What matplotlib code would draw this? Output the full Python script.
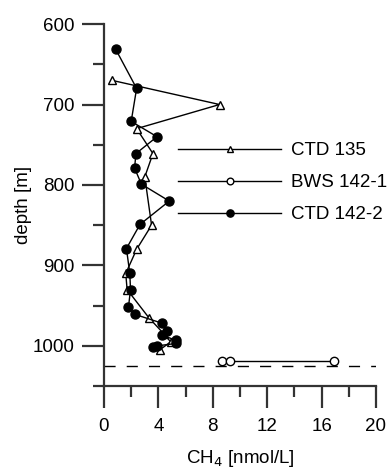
import matplotlib
matplotlib.use('Agg')
import matplotlib.pyplot as plt
from matplotlib.ticker import MultipleLocator

plt.rcParams['font.family'] = ['Liberation Sans', 'DejaVu Sans']
plt.rcParams['font.size'] = 13.5

# CTD 135 (open triangles)
ctd135_ch4 = [0.6, 8.5, 2.4, 3.6, 3.0, 3.5, 2.4, 1.6, 1.7, 3.3, 4.4, 4.9, 4.1]
ctd135_depth = [670, 700, 730, 761, 790, 850, 880, 910, 930, 965, 985, 995, 1005]

# BWS 142-1 (open circles)
bws_ch4 = [8.65, 9.3, 16.9]
bws_depth = [1019, 1019, 1019]

# CTD 142-2 (filled circles)
ctd142_ch4 = [0.85, 2.4, 2.0, 3.9, 2.35, 2.25, 2.75, 4.8, 2.65, 1.65, 1.9,
              1.95, 1.8, 2.3, 4.3, 4.65, 4.3, 5.3, 5.3, 3.9, 3.6]
ctd142_depth = [631, 680, 721, 740, 761, 779, 799, 820, 849, 879, 910,
                930, 952, 961, 972, 982, 987, 993, 997, 1000, 1002]

seafloor = 1025

fig = plt.figure(figsize=(3.88, 4.72), dpi=100)
ax = fig.add_axes([0.268, 0.182, 0.701, 0.767])

ax.plot(ctd135_ch4, ctd135_depth, '-^', color='black', lw=1.0,
        mfc='white', mec='black', ms=6, mew=1.0, label='CTD 135')
ax.plot(bws_ch4, bws_depth, '-o', color='black', lw=1.0,
        mfc='white', mec='black', ms=6, mew=1.0, label='BWS 142-1')
ax.plot(ctd142_ch4, ctd142_depth, '-o', color='black', lw=1.0,
        mfc='black', mec='black', ms=6.5, label='CTD 142-2')

# bottom depth
ax.axhline(seafloor, color='black', lw=1.0, dashes=(8, 8))

ax.set_xlim(0, 20)
ax.set_ylim(1050, 600)
ax.xaxis.set_major_locator(MultipleLocator(4))
ax.xaxis.set_minor_locator(MultipleLocator(2))
ax.yaxis.set_major_locator(MultipleLocator(100))
ax.yaxis.set_minor_locator(MultipleLocator(50))

for s in ['top', 'right']:
    ax.spines[s].set_visible(False)
for s in ['left', 'bottom']:
    ax.spines[s].set_color('#333333')
    ax.spines[s].set_linewidth(1.6)

ax.tick_params(which='major', direction='out', length=16, width=1.6,
               color='#333333', pad=5)
ax.tick_params(axis='x', which='major', pad=7)
ax.tick_params(which='minor', direction='out', length=8, width=1.6,
               color='#333333')

ax.set_xlabel('CH$_4$ [nmol/L]', labelpad=9)
ax.set_ylabel('depth [m]', labelpad=1)

ax.legend(loc='upper left', bbox_to_anchor=(0.245, 0.695), frameon=False,
          handlelength=5.5, handletextpad=0.5, labelspacing=0.8,
          numpoints=1, markerscale=0.8, borderaxespad=0)

fig.savefig('out.png', dpi=100)
